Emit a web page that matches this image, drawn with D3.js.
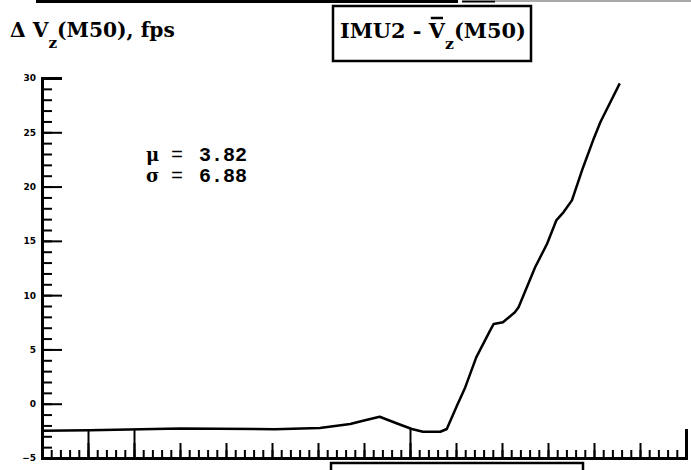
<!DOCTYPE html>
<html><head><meta charset="utf-8">
<script src="https://cdn.jsdelivr.net/npm/d3@7"></script>
<style>body{margin:0;background:#fff}svg{display:block}</style>
</head><body>
<svg id="c" width="691" height="470"></svg>
<script>
// ---- data ----
const xPts = [0, 5.2, 15, 25.3, 30.2, 33.5, 34.9, 36.7, 38.6, 40.2, 41.4, 43.3, 44.0, 45.1, 46.0, 47.2, 48.7, 49.1, 50.1, 51.4, 51.8, 52.7, 53.6, 54.9, 55.9, 56.7, 57.6, 58.7, 59.9, 60.7, 62.8];
const yPts = [-2.49, -2.44, -2.28, -2.35, -2.24, -1.87, -1.57, -1.2, -1.82, -2.33, -2.58, -2.58, -2.33, -0.18, 1.5, 4.27, 6.73, 7.35, 7.5, 8.42, 8.88, 10.73, 12.57, 14.73, 16.88, 17.65, 18.73, 21.5, 24.26, 25.95, 29.5];
const yTickLabels = [-5, 0, 5, 10, 15, 20, 25, 30];
const yMinor = d3.range(-5, 30.01, 1);
const xMajor = d3.range(0, 70.01, 5);
const xMinor = d3.range(0, 70.01, 1);
const xMarkerTicks = [5, 10, 40];
const statLabels = ["\u03bc", "\u03c3"];
const statValues = ["3.82", "6.88"];

const svg = d3.select("#c");
const x = d3.scaleLinear().domain([0, 70]).range([42, 686]);
const y = d3.scaleLinear().domain([-5, 30]).range([458, 78]);

// top scan rule
svg.append("line").attr("x1", 36).attr("x2", 458).attr("y1", 1.5).attr("y2", 1.5).attr("stroke", "#000").attr("stroke-width", 3);
svg.append("line").attr("x1", 462).attr("x2", 495).attr("y1", 1.5).attr("y2", 1.5).attr("stroke", "#000").attr("stroke-width", 2);
svg.append("line").attr("x1", 495).attr("x2", 691).attr("y1", 1).attr("y2", 1).attr("stroke", "#555").attr("stroke-width", 1);

// y axis
const gy = svg.append("g").attr("transform", "translate(42,0)");
gy.call(d3.axisLeft(y).tickValues(yMinor).tickSize(-10).tickFormat(""));
gy.append("g").call(d3.axisLeft(y).tickValues(yTickLabels).tickSize(-20).tickPadding(6).tickFormat(d3.format("d")));
gy.selectAll("path.domain").attr("stroke-width", 3);
gy.selectAll("line").attr("stroke-width", 2);
gy.selectAll("text").attr("font-family", "DejaVu Sans").attr("font-weight", "bold").attr("font-size", 9).attr("fill", "#000");

// x axis
const gx = svg.append("g").attr("transform", "translate(0,458)");
gx.call(d3.axisBottom(x).tickValues(xMinor).tickSize(-8).tickFormat(""));
gx.append("g").call(d3.axisBottom(x).tickValues(xMajor).tickSize(-15).tickFormat(""));
gx.append("g").call(d3.axisBottom(x).tickValues(xMarkerTicks).tickSize(-29).tickFormat(""));
gx.selectAll("path.domain").attr("stroke-width", 3);
gx.selectAll("line").attr("stroke-width", 2);

// curve
const pts = xPts.map((v, i) => [v, yPts[i]]);
svg.append("path").datum(pts)
  .attr("d", d3.line().x(d => x(d[0])).y(d => y(d[1])))
  .attr("fill", "none").attr("stroke", "#000").attr("stroke-width", 2.5).attr("stroke-linejoin", "round");

// stats
const st = svg.append("g").attr("font-family", "Liberation Mono").attr("font-weight", "bold").attr("font-size", 20).attr("fill", "#000");
statLabels.forEach((s, i) => {
  const yy = 161 + i * 21;
  st.append("text").attr("x", 146).attr("y", yy).attr("font-family", "DejaVu Serif").attr("font-size", 18).text(s);
  st.append("text").attr("x", 171).attr("y", yy).attr("font-weight", "normal").text("=");
  st.append("text").attr("x", 199).attr("y", yy).text(statValues[i]);
});

// left title
const tf = "DejaVu Serif";
function fitText(t, target) {
  const w = t.node().getComputedTextLength();
  const fs = 18 * target / w;
  t.attr("font-size", fs);
  return fs;
}
const lt = svg.append("text").attr("x", 10).attr("y", 37).attr("font-family", tf).attr("font-weight", "bold").attr("font-size", 18).attr("fill", "#000");
lt.append("tspan").text("\u0394 V");
lt.append("tspan").attr("dy", 11).attr("font-size", "0.75em").text("z");
lt.append("tspan").attr("dy", -11).text("(M50), fps");
fitText(lt, 165);

// boxed title
svg.append("rect").attr("x", 333).attr("y", 6).attr("width", 198).attr("height", 55).attr("fill", "none").attr("stroke", "#000").attr("stroke-width", 2.5);
const bt = svg.append("text").attr("x", 340).attr("y", 38).attr("font-family", tf).attr("font-weight", "bold").attr("font-size", 18).attr("fill", "#000");
bt.append("tspan").text("IMU2 - ");
bt.append("tspan").text("V");
bt.append("tspan").attr("dy", 11).attr("font-size", "0.75em").text("z");
bt.append("tspan").attr("dy", -11).text("(M50)");
fitText(bt, 186);
const vStart = bt.node().getSubStringLength(0, 7);
const vW = bt.node().getSubStringLength(7, 1);
svg.append("line").attr("x1", 340 + vStart + 2).attr("x2", 340 + vStart + vW - 2).attr("y1", 18).attr("y2", 18).attr("stroke", "#000").attr("stroke-width", 2.5);

// bottom box (cut off)
svg.append("path").attr("d", "M331,472 V463 H583 V472").attr("fill", "none").attr("stroke", "#000").attr("stroke-width", 2.5);
</script>
</body></html>
